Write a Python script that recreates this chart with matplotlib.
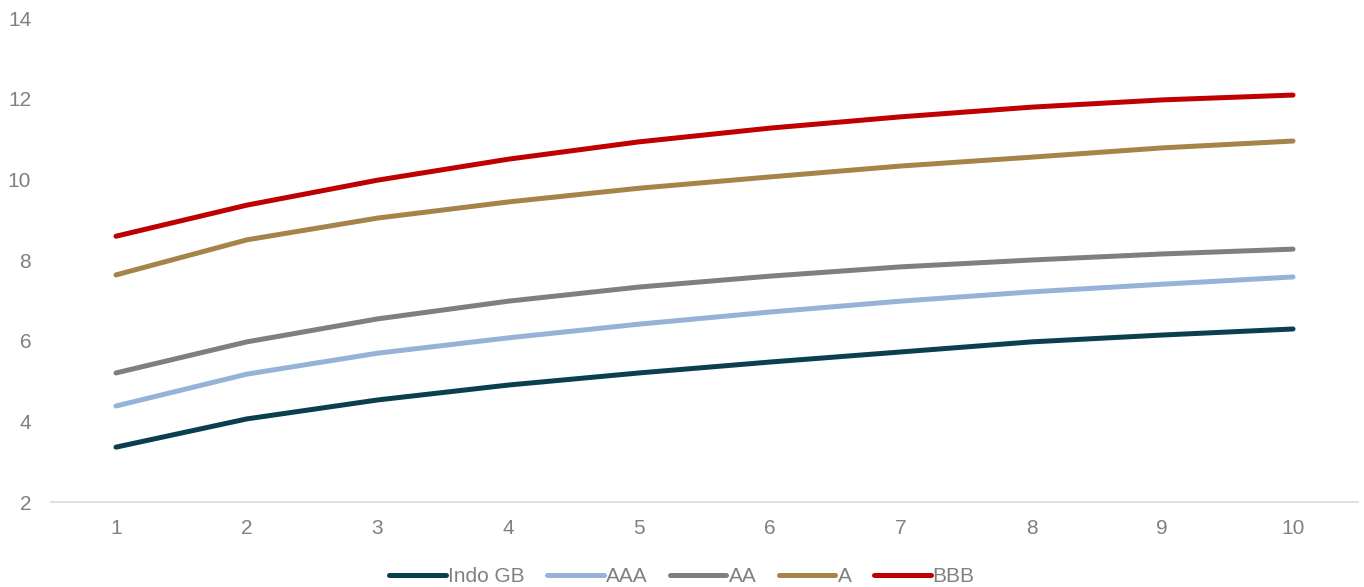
import matplotlib.pyplot as plt

plt.rcParams['font.family'] = ['Liberation Sans', 'DejaVu Sans']

# Tenor (years)
tenors = [1, 2, 3, 4, 5, 6, 7, 8, 9, 10]

# Yield curves by rating (%)
indo_gb = [3.36, 4.06, 4.53, 4.90, 5.20, 5.47, 5.72, 5.97, 6.14, 6.29]
aaa = [4.38, 5.17, 5.69, 6.07, 6.41, 6.71, 6.98, 7.21, 7.40, 7.58]
aa = [5.20, 5.97, 6.54, 6.98, 7.33, 7.60, 7.83, 8.00, 8.15, 8.27]
a = [7.63, 8.50, 9.04, 9.44, 9.78, 10.06, 10.33, 10.55, 10.78, 10.95]
bbb = [8.59, 9.36, 9.98, 10.50, 10.93, 11.27, 11.55, 11.79, 11.97, 12.09]

series = [
    ("Indo GB", indo_gb, "#0b3f4f"),
    ("AAA", aaa, "#95b3d7"),
    ("AA", aa, "#7f7f7f"),
    ("A", a, "#a5844a"),
    ("BBB", bbb, "#c00000"),
]

fig = plt.figure(figsize=(13.64, 5.87), dpi=100)
ax = fig.add_axes([0.0371, 0.1448, 0.9588, 0.8245])

for name, vals, col in series:
    ax.plot(tenors, vals, color=col, lw=3.6, label=name, solid_capstyle='round')

ax.set_xlim(0.5, 10.5)
ax.set_ylim(2, 14)
ax.set_xticks(tenors)
ax.set_yticks(range(2, 15, 2))

grey = "#808080"
ax.tick_params(axis='both', length=0, labelsize=15, labelcolor=grey)
ax.tick_params(axis='x', pad=12)
ax.tick_params(axis='y', pad=14)

for s in ['top', 'right', 'left']:
    ax.spines[s].set_visible(False)
ax.spines['bottom'].set_color("#d9d9d9")
ax.spines['bottom'].set_linewidth(1.2)

leg = fig.legend(loc='center', bbox_to_anchor=(0.5, 0.018), ncol=5, frameon=False,
                 fontsize=15, handlelength=2.7, handletextpad=0.1, columnspacing=1.1)
for t in leg.get_texts():
    t.set_color(grey)

fig.savefig("out.png", dpi=100)
plt.close(fig)
